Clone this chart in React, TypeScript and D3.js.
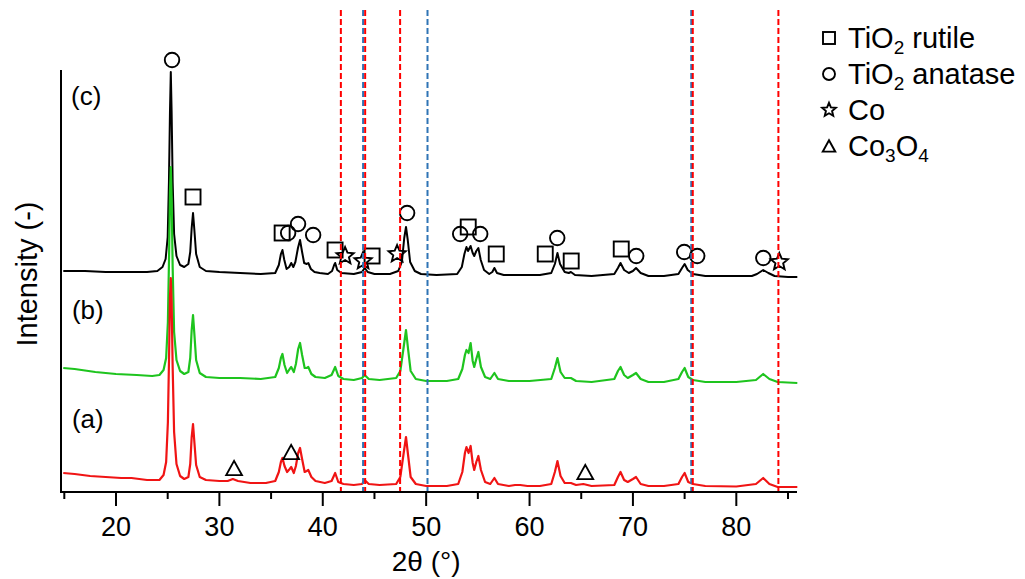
import React from 'react';
import * as d3 from 'd3';

// ---- data (2θ in degrees, intensity in arbitrary units, offsets included) ----
const xMajorTicks = [20, 30, 40, 50, 60, 70, 80];
const xMinorTicks = [15, 25, 35, 45, 55, 65, 75, 85];

const seriesC: [number, number][] = [
  [14.9,221],[17,221],[19,220],[21,220],[23,220],[24.0,221],[24.5,225],[24.8,233],[25.0,255],[25.12,310],[25.22,380],[25.3,420],[25.38,380],[25.48,310],[25.62,258],[25.85,236],[26.2,227],[26.6,225],[27.0,228],[27.18,240],[27.32,264],[27.45,279],[27.58,262],[27.75,238],[28.1,225],[28.7,221],[30,220],[32,219],[34,218],[35.4,219],[35.75,227],[35.95,238],[36.1,242],[36.28,232],[36.5,223],[36.75,225],[36.95,229],[37.15,225],[37.35,230],[37.6,244],[37.8,252],[38.0,240],[38.2,229],[38.45,228],[38.6,229],[38.85,223],[39.2,220],[39.7,219],[40.5,218],[40.9,221],[41.1,227],[41.2,229],[41.4,222],[41.8,219],[43.0,218],[43.8,220],[44.05,224],[44.35,220],[45,218],[46.5,218],[47.3,221],[47.65,230],[47.88,254],[48.05,265],[48.22,252],[48.45,230],[48.9,221],[49.5,218],[51,217],[53.0,218],[53.45,225],[53.7,238],[53.9,245],[54.05,241],[54.3,246],[54.5,239],[54.65,236],[54.85,241],[55.05,244],[55.28,232],[55.6,222],[56.1,218],[56.4,220],[56.6,224],[56.85,219],[57.5,217],[59,217],[61,217],[62.1,219],[62.45,228],[62.7,239],[62.95,228],[63.4,220],[63.8,219],[64.0,220],[64.4,217],[66,216],[68.2,218],[68.55,224],[68.8,229],[69.15,222],[69.6,219],[70.0,221],[70.3,224],[70.75,219],[71.5,216],[73,216],[74.4,218],[74.75,224],[75.0,228],[75.3,222],[75.8,218],[77,216],[79,216],[81.5,216],[82.0,218],[82.6,222],[83.1,219],[83.7,216],[85,215],[85.9,215]
];

const seriesB: [number, number][] = [
  [14.9,124],[16,123],[18,120],[20,118],[22,117],[23.5,116],[24.2,117],[24.6,122],[24.85,134],[25.02,170],[25.14,240],[25.22,300],[25.3,325],[25.38,295],[25.48,225],[25.62,160],[25.85,132],[26.2,121],[26.6,118],[27.0,120],[27.18,134],[27.32,162],[27.45,177],[27.58,158],[27.75,132],[28.1,119],[28.7,115],[30,114],[32,114],[34,113],[35.4,115],[35.75,124],[35.95,134],[36.1,138],[36.3,127],[36.55,119],[36.8,123],[36.95,125],[37.2,120],[37.4,128],[37.62,143],[37.8,149],[38.0,137],[38.25,124],[38.45,124],[38.6,125],[38.9,118],[39.3,115],[40.2,114],[40.85,117],[41.2,125],[41.5,116],[42,113],[43,112],[43.8,114],[44.05,117],[44.45,113],[45.5,112],[47.1,114],[47.5,121],[47.8,143],[48.05,162],[48.25,143],[48.5,121],[49.0,113],[50,111],[52,111],[53.1,113],[53.5,123],[53.75,137],[53.9,142],[54.1,139],[54.3,149],[54.5,131],[54.65,125],[54.85,133],[55.05,140],[55.3,125],[55.7,115],[56.2,113],[56.6,119],[56.95,113],[58,111],[60,111],[62.1,113],[62.45,124],[62.7,134],[63.0,120],[63.4,114],[64.0,114],[64.5,111],[66,110],[68.2,113],[68.55,121],[68.8,125],[69.15,117],[69.5,114],[70.0,117],[70.3,119],[70.75,113],[71.5,110],[73,110],[74.4,113],[74.75,120],[75.0,124],[75.35,115],[75.8,112],[77,110],[80,110],[81.9,112],[82.6,118],[83.2,113],[84,110],[85.9,109]
];

const seriesA: [number, number][] = [
  [14.9,19],[16,18],[17.5,16],[19,15],[20.5,14],[21.5,14],[23,12],[24.2,12],[24.6,17],[24.85,30],[25.02,70],[25.14,140],[25.22,195],[25.3,214],[25.38,190],[25.48,125],[25.62,60],[25.85,28],[26.2,16],[26.6,13],[27.0,15],[27.18,28],[27.32,55],[27.45,68],[27.58,50],[27.75,27],[28.1,15],[28.7,12],[30,11],[30.8,11],[31.3,13],[31.8,11],[33,9],[34.5,9],[35.4,11],[35.75,20],[35.95,30],[36.1,34],[36.3,26],[36.55,20],[36.8,23],[36.95,25],[37.2,19],[37.4,26],[37.62,39],[37.8,44],[38.0,33],[38.25,20],[38.45,21],[38.6,22],[38.9,15],[39.3,11],[40.2,9],[40.85,11],[41.2,19],[41.5,10],[42,8],[43,7],[43.8,8],[44.05,12],[44.45,8],[45.5,7],[47.1,8],[47.5,15],[47.8,37],[48.05,55],[48.25,37],[48.5,15],[49.0,8],[50,6],[52,6],[53.1,8],[53.5,20],[53.75,39],[53.9,45],[54.1,39],[54.3,46],[54.5,29],[54.65,22],[54.85,30],[55.05,36],[55.3,22],[55.7,10],[56.2,8],[56.6,14],[56.95,8],[58,6],[58.6,7],[59.1,7],[59.8,6],[61,6],[62.1,8],[62.45,20],[62.7,31],[63.0,16],[63.4,9],[64.0,9],[64.5,7],[65.2,8],[66,6],[68.2,7],[68.55,15],[68.8,20],[69.15,12],[69.5,10],[70.0,13],[70.3,15],[70.75,8],[71.5,6],[73,6],[74.4,8],[74.75,15],[75.0,19],[75.35,10],[75.8,8],[77,6],[80,5.5],[81.9,8],[82.6,14],[83.2,8],[84,5],[85.9,5]
];

// phase markers (2θ, intensity)
const anataseMarks: [number, number][] = [
  [25.42,432],[36.65,259],[37.61,268],[39.07,257],[48.16,279],[53.29,258],[55.23,258],[62.68,254],[70.32,236],[74.96,240],[76.22,236],[82.61,234]
];
const rutileMarks: [number, number][] = [
  [27.45,295],[36.07,259],[41.19,242],[44.77,236],[54.07,265],[56.78,238],[61.52,238],[64.03,231],[68.87,243]
];
const coMarks: [number, number][] = [
  [42.16,236],[43.9,231],[47.19,238],[84.16,230]
];
const co3o4Marks: [number, number][] = [
  [31.42,24],[36.94,40],[65.39,20]
];

const redRefLines = [41.75, 44.1, 47.48, 75.79, 84.07];
const blueRefLines = [43.9, 50.13, 75.64];

const panelLabels = ['(c)', '(b)', '(a)'];
const panelLabelX = [15.65, 15.74, 15.74];
const panelLabelY = [387, 173, 64];

const legendLabels = [
  [['TiO', false], ['2', true], [' rutile', false]],
  [['TiO', false], ['2', true], [' anatase', false]],
  [['Co', false]],
  [['Co', false], ['3', true], ['O', false], ['4', true]],
] as [string, boolean][][];
const legendSymbols = ['square', 'circle', 'star', 'triangle'];

const FONT = "'Liberation Sans', Arial, Helvetica, sans-serif";

function starPath(cx: number, cy: number, R: number) {
  const r = R * 0.45;
  const pts: string[] = [];
  for (let i = 0; i < 10; i++) {
    const rad = i % 2 === 0 ? R : r;
    const a = -Math.PI / 2 + (i * Math.PI) / 5;
    pts.push(`${(cx + rad * Math.cos(a)).toFixed(2)},${(cy + rad * Math.sin(a)).toFixed(2)}`);
  }
  return 'M' + pts.join('L') + 'Z';
}
function triPath(cx: number, cy: number, w: number) {
  const h = w * 0.9;
  return `M${cx - w / 2},${cy + h / 2}L${cx},${cy - h / 2}L${cx + w / 2},${cy + h / 2}Z`;
}

function Symbol({ kind, cx, cy, s }: { kind: string; cx: number; cy: number; s: number }) {
  const common = { fill: 'none', stroke: '#000', strokeWidth: 1.9 };
  if (kind === 'square') return <rect x={cx - s / 2} y={cy - s / 2} width={s} height={s} {...common} />;
  if (kind === 'circle') return <circle cx={cx} cy={cy} r={s / 2} {...common} />;
  if (kind === 'star') return <path d={starPath(cx, cy, s * 0.6)} {...common} strokeLinejoin="miter" />;
  return <path d={triPath(cx, cy, s * 1.05)} {...common} />;
}

export default function App() {
  const W = 1025, H = 579;
  const x = d3.scaleLinear().domain([14.68, 85.87]).range([61, 797]);
  const y = d3.scaleLinear().domain([0, 482]).range([492, 10]);
  const yAxisTop = 422;
  const line = d3.line<[number, number]>().x(d => x(d[0])).y(d => y(d[1])).curve(d3.curveLinear);

  const series = [
    { data: seriesC, color: '#000000', w: 2 },
    { data: seriesB, color: '#1ec41e', w: 2.2 },
    { data: seriesA, color: '#f01414', w: 2.2 },
  ];

  return (
    <div style={{ position: 'fixed', left: 0, top: 0 }}>
      <svg width={W} height={H} style={{ display: 'block', background: '#fff' }} fontFamily={FONT}>
        {series.map((s, i) => (
          <path key={i} d={line(s.data) || ''} fill="none" stroke={s.color} strokeWidth={s.w} strokeLinejoin="round" />
        ))}
        {anataseMarks.map((d, i) => <Symbol key={'a' + i} kind="circle" cx={x(d[0])} cy={y(d[1])} s={14.5} />)}
        {rutileMarks.map((d, i) => <Symbol key={'r' + i} kind="square" cx={x(d[0])} cy={y(d[1])} s={15} />)}
        {coMarks.map((d, i) => <Symbol key={'c' + i} kind="star" cx={x(d[0])} cy={y(d[1])} s={15} />)}
        {co3o4Marks.map((d, i) => <Symbol key={'t' + i} kind="triangle" cx={x(d[0])} cy={y(d[1])} s={15} />)}

        {blueRefLines.map((v, i) => (
          <line key={'b' + i} x1={x(v)} x2={x(v)} y1={y(482)} y2={y(0)} stroke="#2f74b5" strokeWidth={2} strokeDasharray="6,3" />
        ))}
        {redRefLines.map((v, i) => (
          <line key={'rl' + i} x1={x(v)} x2={x(v)} y1={y(482)} y2={y(0)} stroke="#ff0000" strokeWidth={2} strokeDasharray="6,3" />
        ))}

        {/* axes */}
        <line x1={x.range()[0]} x2={x.range()[1]} y1={y(0)} y2={y(0)} stroke="#000" strokeWidth={2} />
        <line x1={x.range()[0]} x2={x.range()[0]} y1={y(0) + 1} y2={y(yAxisTop)} stroke="#000" strokeWidth={2} />
        {xMajorTicks.map(t => (
          <g key={'M' + t}>
            <line x1={x(t)} x2={x(t)} y1={y(0)} y2={y(0) + 14} stroke="#000" strokeWidth={2} />
            <text x={x(t)} y={y(0) + 44} textAnchor="middle" fontSize={27}>{t}</text>
          </g>
        ))}
        {xMinorTicks.map(t => (
          <line key={'m' + t} x1={x(t)} x2={x(t)} y1={y(0)} y2={y(0) + 7} stroke="#000" strokeWidth={2} />
        ))}
        <text x={x(50)} y={571} textAnchor="middle" fontSize={28}>2θ (°)</text>
        <text transform={`translate(37,${(y(0) + y(yAxisTop)) / 2 - 7}) rotate(-90)`} textAnchor="middle" fontSize={29}>Intensity (-)</text>

        {panelLabels.map((t, i) => (
          <text key={t} x={x(panelLabelX[i])} y={y(panelLabelY[i])} fontSize={26}>{t}</text>
        ))}

        {/* legend */}
        {legendLabels.map((parts, i) => {
          const cy = 38 + i * 36;
          return (
            <g key={'lg' + i}>
              <Symbol kind={legendSymbols[i]} cx={829} cy={cy} s={12} />
              <text x={848} y={cy + 10} fontSize={29}>
                {parts.map(([t, sub], j) => (
                  <tspan key={j} fontSize={sub ? 19 : 29} dy={j === 0 ? 0 : sub ? 6 : (parts[j - 1][1] ? -6 : 0)}>{t}</tspan>
                ))}
              </text>
            </g>
          );
        })}
      </svg>
    </div>
  );
}
